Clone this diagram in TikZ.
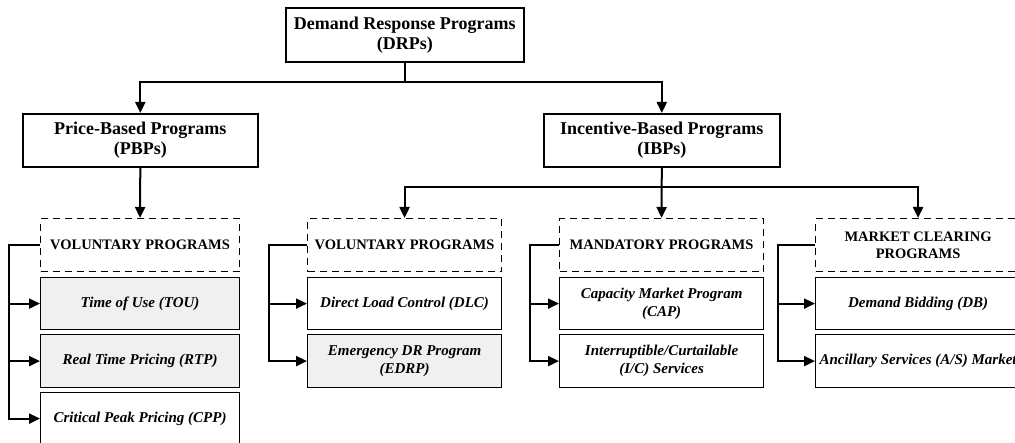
\documentclass[tikz,border=0pt]{standalone}
\usepackage{fontspec}
\setmainfont{Liberation Serif}
\usetikzlibrary{arrows.meta,calc}
\definecolor{boxgray}{HTML}{F0F0F0}
\tikzset{
  topbox/.style={draw=black, line width=1.6pt, anchor=north west, inner sep=0pt, align=center,
     font=\fontsize{18}{20}\selectfont\bfseries},
  headbox/.style={draw=black, line width=1.1pt, dash pattern=on 7pt off 5pt, anchor=north west, inner sep=0pt, align=center,
     font=\fontsize{14.5}{17}\selectfont\bfseries},
  itembox/.style={draw=black, line width=1.2pt, anchor=north west, inner sep=0pt, align=center,
     font=\fontsize{15}{18}\selectfont\bfseries\itshape},
  grayitem/.style={itembox, fill=boxgray},
  conn/.style={line width=2pt},
  arr/.style={line width=2pt, -{Triangle[length=11pt,width=10pt]}},
}
\begin{document}
\begin{tikzpicture}[x=1pt,y=1pt]
\useasboundingbox (0,0) rectangle (1015,-443);
% top level
\node[topbox, minimum width=238pt, minimum height=54pt] (drp) at (285,-7) {Demand Response Programs\\(DRPs)};
\node[topbox, minimum width=235pt, minimum height=53pt] (pbp) at (22,-113) {Price-Based Programs\\(PBPs)};
\node[topbox, minimum width=236pt, minimum height=53pt] (ibp) at (543,-113) {Incentive-Based Programs\\(IBPs)};
% dashed heads
\node[headbox, minimum width=199pt, minimum height=53pt] (d1) at (40,-218) {VOLUNTARY PROGRAMS};
\node[headbox, minimum width=194pt, minimum height=53pt] (d2) at (307,-218) {VOLUNTARY PROGRAMS};
\node[headbox, minimum width=204pt, minimum height=53pt] (d3) at (559,-218) {MANDATORY PROGRAMS};
\node[headbox, minimum width=205pt, minimum height=53pt] (d4) at (815,-218) {MARKET CLEARING\\PROGRAMS};
% items column 1
\node[grayitem, minimum width=199pt, minimum height=52pt] (b11) at (40,-277) {Time of Use (TOU)};
\node[grayitem, minimum width=199pt, minimum height=53pt] (b12) at (40,-334) {Real Time Pricing (RTP)};
\node[itembox, minimum width=199pt, minimum height=52pt] (b13) at (40,-392) {Critical Peak Pricing (CPP)};
% column 2
\node[itembox, minimum width=194pt, minimum height=52pt] (b21) at (307,-277) {Direct Load Control (DLC)};
\node[grayitem, minimum width=194pt, minimum height=53pt] (b22) at (307,-334) {Emergency DR Program\\(EDRP)};
% column 3
\node[itembox, minimum width=204pt, minimum height=52pt] (b31) at (559,-277) {Capacity Market Program\\(CAP)};
\node[itembox, minimum width=204pt, minimum height=53pt] (b32) at (559,-334) {Interruptible/Curtailable\\(I/C) Services};
% column 4
\node[itembox, minimum width=205pt, minimum height=52pt] (b41) at (815,-277) {Demand Bidding (DB)};
\node[itembox, minimum width=205pt, minimum height=53pt] (b42) at (815,-334) {Ancillary Services (A/S) Market};
% top connectors
\coordinate (t1) at ($(drp.south)+(0,-19)$);
\draw[arr] (drp.south) -- (t1) -| (pbp.north);
\draw[arr] (t1) -| (ibp.north);
\draw[arr] (pbp.south) -- (d1.north);
\coordinate (t2) at ($(ibp.south)+(0,-19)$);
\draw[arr] (ibp.south) -- (d3.north);
\draw[arr] (t2) -| (d2.north);
\draw[arr] (t2) -| (d4.north);
% side connectors
\coordinate (j1) at ($(d1.west)+(-31,0)$);
\draw[conn] (d1.west) -- (j1) -- (j1 |- b12.west);
\draw[arr] (j1 |- b12.west) |- (b13.west);
\draw[arr] (j1 |- b11.west) -- (b11.west);
\draw[arr] (j1 |- b12.west) -- (b12.west);
\coordinate (j2) at ($(d2.west)+(-38,0)$);
\draw[conn] (d2.west) -- (j2) -- (j2 |- b21.west);
\draw[arr] (j2 |- b21.west) |- (b22.west);
\draw[arr] (j2 |- b21.west) -- (b21.west);
\coordinate (j3) at ($(d3.west)+(-29,0)$);
\draw[conn] (d3.west) -- (j3) -- (j3 |- b31.west);
\draw[arr] (j3 |- b31.west) |- (b32.west);
\draw[arr] (j3 |- b31.west) -- (b31.west);
\coordinate (j4) at ($(d4.west)+(-37,0)$);
\draw[conn] (d4.west) -- (j4) -- (j4 |- b41.west);
\draw[arr] (j4 |- b41.west) |- (b42.west);
\draw[arr] (j4 |- b41.west) -- (b41.west);
\end{tikzpicture}
\end{document}
